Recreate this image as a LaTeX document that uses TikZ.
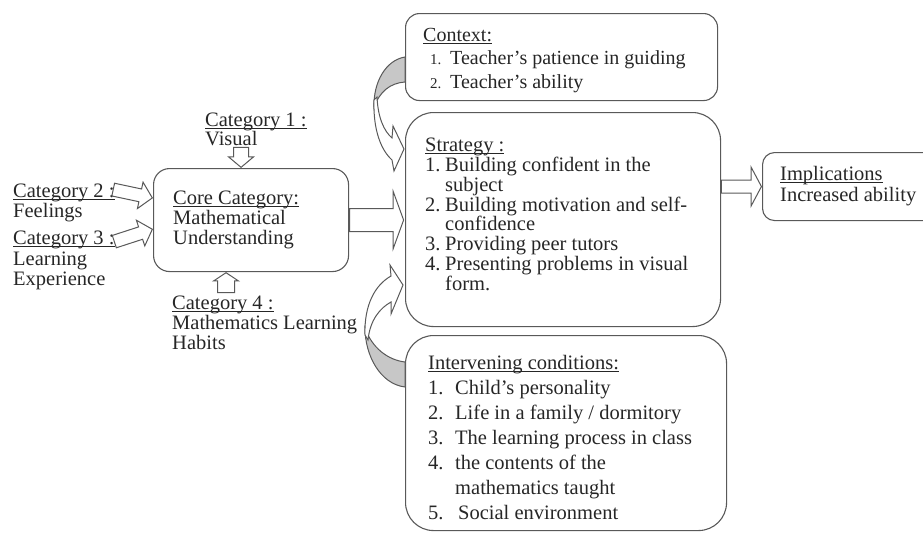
\documentclass[tikz,border=0pt]{standalone}
\usepackage{fontspec}
\setmainfont{Liberation Serif}
\usetikzlibrary{shapes.arrows}
\lineskiplimit=-30pt
\tikzset{
  box/.style={draw=black!65, line width=1.1pt, anchor=north west, inner sep=0pt},
  txt/.style={anchor=north west, inner sep=0pt, align=left, text=black!85},
  blockarrow/.style={single arrow, draw=black!65, fill=white, line width=1pt, inner sep=0pt},
  curvearrow/.style={draw=black!65, line width=1pt},
}
\newcommand{\itm}[2][20pt]{\makebox[#1][l]{#2}}
% underline in the Word manner, through the descenders
\newcommand{\hdr}[1]{\setbox0\hbox{#1}\rlap{\rule[-2.6pt]{\wd0}{0.9pt}}\box0}
\begin{document}
\begin{tikzpicture}[x=1pt,y=-1pt]
\useasboundingbox (0,0) rectangle (923,533);
\clip (0,0) rectangle (923,533);
% boxes
\node[box, rounded corners=14pt, minimum width=312pt, minimum height=87pt] (context) at (405,13) {};
\node[box, rounded corners=28pt, minimum width=315pt, minimum height=214pt] (strategy) at (405,112) {};
\node[box, rounded corners=28pt, minimum width=321pt, minimum height=195pt] (interv) at (405,335) {};
\node[box, rounded corners=16pt, minimum width=195pt, minimum height=103pt] (core) at (153,168) {};
\node[box, rounded corners=12pt, minimum width=178pt, minimum height=68pt] (impl) at (762,152) {};
% texts
\node[txt, font=\fontsize{20}{23.5}\selectfont] (contexttxt) at (423,28)
  {\hdr{Context:}\\
   \hspace*{7pt}\itm{\fontsize{15}{15}\selectfont 1.}Teacher's patience in guiding\\
   \hspace*{7pt}\itm{\fontsize{15}{15}\selectfont 2.}Teacher's ability};
\node[txt, font=\fontsize{20.5}{19.8}\selectfont] (strategytxt) at (425,138)
  {\hdr{Strategy :}\\
   \itm{1.}Building confident in the\\
   \itm{}subject\\
   \itm{2.}Building motivation and self-\\
   \itm{}confidence\\
   \itm{3.}Providing peer tutors\\
   \itm{4.}Presenting problems in visual\\
   \itm{}form.};
\node[txt, font=\fontsize{20.5}{25}\selectfont] (intervtxt) at (428,355)
  {\hdr{Intervening conditions:}\\
   \itm[27pt]{1.}Child's personality\\
   \itm[27pt]{2.}Life in a family / dormitory\\
   \itm[27pt]{3.}The learning process in class\\
   \itm[27pt]{4.}the contents of the\\
   \itm[27pt]{}mathematics taught\\
   \itm[30pt]{5.}Social environment};
\node[txt, font=\fontsize{20.5}{20}\selectfont] (coretxt) at (173,191)
  {\hdr{Core Category:}\\ Mathematical\\ Understanding};
\node[txt, font=\fontsize{20.5}{21}\selectfont] (impltxt) at (780,166)
  {\hdr{Implications}\\ Increased ability};
\node[txt, font=\fontsize{20.5}{19}\selectfont] (cat1) at (205,113)
  {\hdr{Category 1 :}\\ Visual};
\node[txt, font=\fontsize{20.5}{20}\selectfont] (cat2) at (13,184)
  {\hdr{Category 2 :}\\ Feelings};
\node[txt, font=\fontsize{20.5}{20.5}\selectfont] (cat3) at (13,231)
  {\hdr{Category 3 :}\\ Learning\\ Experience};
\node[txt, font=\fontsize{20.5}{20}\selectfont] (cat4) at (172,296)
  {\hdr{Category 4 :}\\ Mathematics Learning\\ Habits};
% block arrows
\node[blockarrow, minimum height=54pt, minimum width=56pt, single arrow head extend=17pt,
  single arrow tip angle=140, inner ysep=11pt, anchor=tail] (coretostrategy) at (core.east) {};
\node[blockarrow, minimum height=40pt, minimum width=38pt, single arrow head extend=13pt,
  single arrow tip angle=124, inner ysep=6pt, anchor=tip] (strategytoimpl) at (impl.west) {};
\node[blockarrow, minimum height=20pt, minimum width=24pt, single arrow head extend=5pt,
  single arrow tip angle=100, inner ysep=7pt, rotate=-90, anchor=tip] (cat1arrow) at ([xshift=-10pt]core.north) {};
\node[blockarrow, minimum height=20pt, minimum width=24pt, single arrow head extend=4pt,
  single arrow tip angle=113, inner ysep=8pt, rotate=90, anchor=tip] (cat4arrow) at ([xshift=-25pt]core.south) {};
\node[blockarrow, minimum height=40pt, minimum width=26pt, single arrow head extend=7pt,
  single arrow tip angle=95, inner ysep=6pt, rotate=-12, anchor=tip] (cat2arrow) at ([yshift=22pt]core.west) {};
\node[blockarrow, minimum height=40pt, minimum width=26pt, single arrow head extend=7pt,
  single arrow tip angle=95, inner ysep=6pt, rotate=18, anchor=tip] (cat3arrow) at ([yshift=-9pt]core.west) {};
% curved arrow from context
\draw[curvearrow, fill=black!22] (405,57) .. controls (386,60) and (373,82) .. (374,108)
  .. controls (379,92) and (390,83) .. (405,82) -- cycle;
\draw[curvearrow, fill=white] (374,100) .. controls (373,130) and (381,150) .. (392,160)
  -- (394,171) -- (404,149) -- (393,126) -- (392,138)
  .. controls (384,131) and (378,118) .. (377,97) -- cycle;
% curved arrow from intervening conditions
\draw[curvearrow, fill=black!22] (405,387) .. controls (380,384) and (365,355) .. (365,328)
  .. controls (372,348) and (388,360) .. (405,362) -- cycle;
\draw[curvearrow, fill=white] (365,335) .. controls (364,305) and (375,285) .. (391,276)
  -- (390,265) -- (403,285) -- (391,314) -- (391,302)
  .. controls (380,308) and (370,320) .. (368,340) -- cycle;
\end{tikzpicture}
\end{document}
